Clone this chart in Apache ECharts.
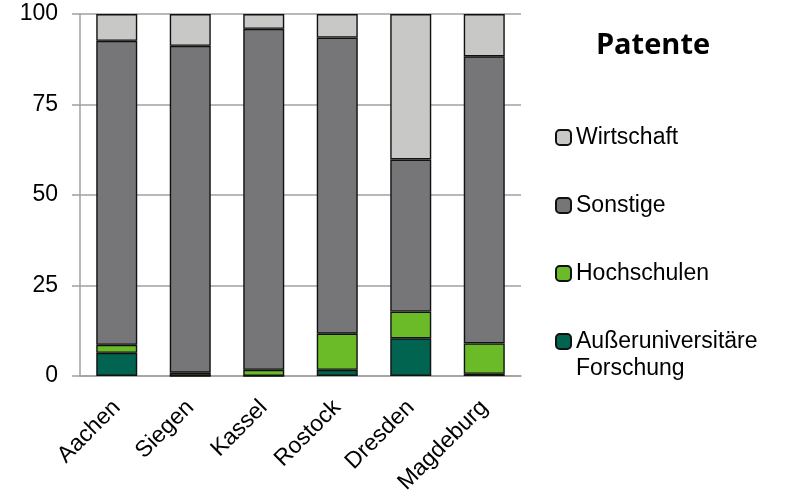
<!DOCTYPE html>
<html lang="de">
  <head>
    <meta charset="UTF-8" />
    <title>Patente</title>
    <script src="https://cdn.jsdelivr.net/npm/echarts@6/dist/echarts.min.js"></script>
    <style>
      html, body { margin: 0; padding: 0; background: #fff; }
      #main { width: 789px; height: 499px; }
    </style>
  </head>
  <body>
    <div id="main"></div>
    <script type="text/javascript">
      // Daten (Anteile in %)
      var staedte = ["Aachen", "Siegen", "Kassel", "Rostock", "Dresden", "Magdeburg"];
      var forschung = [6.4, 0, 0, 1.7, 10.4, 0.6];
      var hochschulen = [2.2, 0.9, 1.7, 10.0, 7.4, 8.4];
      var sonstige = [84.0, 90.3, 94.2, 81.8, 42.0, 79.3];
      var wirtschaft = [7.4, 8.8, 4.1, 6.5, 40.2, 11.7];
      var yTicks = [0, 25, 50, 75, 100];

      var farben = {
        forschung: "#006450",
        hochschulen: "#6abb27",
        sonstige: "#767678",
        wirtschaft: "#c8c8c6"
      };

      var myChart = echarts.init(document.getElementById("main"));

      function reihe(name, data, farbe) {
        return {
          name: name,
          type: "bar",
          stack: "gesamt",
          barWidth: 41,
          data: data,
          itemStyle: { color: farbe, borderColor: "#111", borderWidth: 1.4 }
        };
      }

      var schrift = "'Liberation Sans', Arial, sans-serif";

      var option = {
        animation: false,
        title: {
          text: "Patente",
          left: 648,
          top: 26,
          textAlign: "center",
          textStyle: { fontFamily: "'Open Sans', Lato, sans-serif", fontWeight: "bold", fontSize: 29, color: "#000" }
        },
        legend: {
          orient: "vertical",
          left: 555,
          top: 126,
          padding: 0,
          itemWidth: 15,
          itemHeight: 15,
          itemGap: 45,
          data: ["Wirtschaft", "Sonstige", "Hochschulen", "Außeruniversitäre Forschung"],
          formatter: function (n) {
            return n === "Außeruniversitäre Forschung" ? "Außeruniversitäre" : n;
          },
          textStyle: { fontFamily: schrift, fontSize: 23, color: "#000" }
        },
        graphic: [
          {
            type: "text",
            left: 576,
            top: 357,
            style: { text: "Forschung", font: "23px " + schrift, fill: "#000" }
          }
        ],
        grid: { left: 80, right: 268, top: 14, bottom: 123 },
        xAxis: {
          type: "category",
          data: staedte,
          axisLine: { lineStyle: { color: "#a0a0a0", width: 1.5 } },
          axisTick: { alignWithLabel: false, length: 7, lineStyle: { color: "#a0a0a0", width: 1.5 } },
          axisLabel: { rotate: 45, margin: 28, fontFamily: schrift, fontSize: 23, color: "#000" }
        },
        yAxis: {
          type: "value",
          min: yTicks[0],
          max: yTicks[yTicks.length - 1],
          interval: 25,
          axisLine: { show: true, lineStyle: { color: "#a0a0a0", width: 1.5 } },
          axisTick: { show: true, length: 8, lineStyle: { color: "#a0a0a0", width: 1.5 } },
          splitLine: { lineStyle: { color: "#a0a0a0", width: 1.5 } },
          axisLabel: { margin: 22, fontFamily: schrift, fontSize: 23, color: "#000" }
        },
        series: [
          reihe("Außeruniversitäre Forschung", forschung, farben.forschung),
          reihe("Hochschulen", hochschulen, farben.hochschulen),
          reihe("Sonstige", sonstige, farben.sonstige),
          reihe("Wirtschaft", wirtschaft, farben.wirtschaft)
        ]
      };

      myChart.setOption(option);
    </script>
  </body>
</html>
